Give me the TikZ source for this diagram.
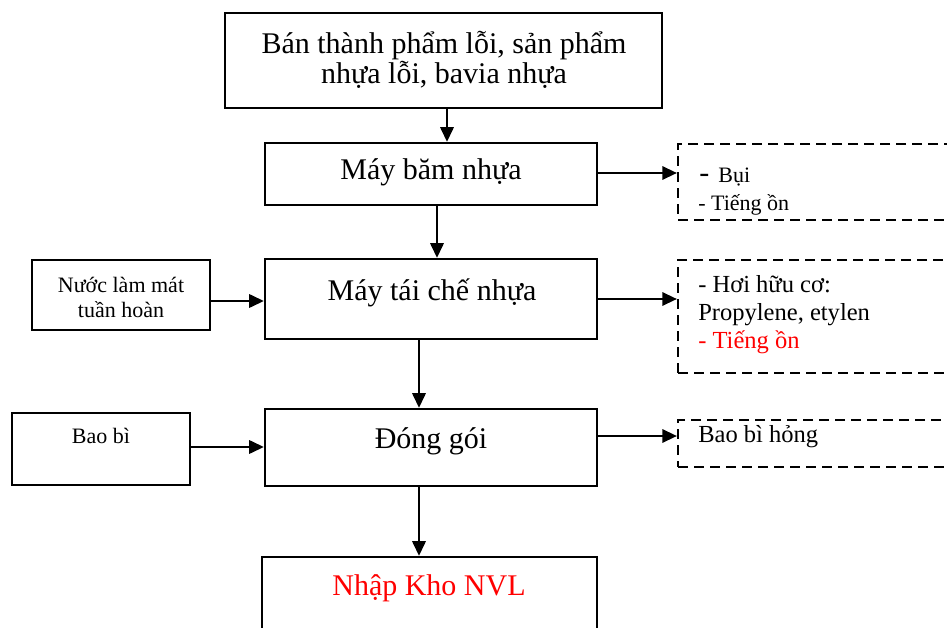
\documentclass[tikz,border=0pt]{standalone}
\usepackage{fontspec}
\setmainfont{Liberation Serif}
\usetikzlibrary{arrows.meta,fit}
\begin{document}
\begin{tikzpicture}[x=0.75pt,y=-0.75pt,
  box/.style={draw, line width=1.7pt, inner sep=0pt},
  dbox/.style={draw, line width=1.6pt, dash pattern=on 7.5pt off 4.5pt, inner sep=0pt},
  flow/.style={line width=1.7pt, -{Triangle[length=11pt,width=10pt]}},
  main/.style={inner sep=0pt, font=\fontsize{22.5}{22.5}\selectfont},
  side/.style={inner sep=0pt, font=\fontsize{18.4}{18.4}\selectfont},
  small/.style={inner sep=0pt, font=\fontsize{16.5}{16.5}\selectfont},
  warn/.style={text=red}
]
\useasboundingbox (0,0) rectangle (947,628);
\clip (0,0) rectangle (947,628);

% process chain
\node[box, fit={(225,13) (662,108)}] (src) {};
\node[main, anchor=base] (srcA) at (444,53) {Bán thành phẩm lỗi, sản phẩm};
\node[main, anchor=base] (srcB) at (444,83) {nhựa lỗi, bavia nhựa};

\node[box, fit={(265,143) (597,205)}] (bam) {};
\node[main, anchor=base] (bamT) at (431,179) {Máy băm nhựa};

\node[box, fit={(265,259) (597,339)}] (tai) {};
\node[main, anchor=base] (taiT) at (432,300) {Máy tái chế nhựa};

\node[box, fit={(265,409) (597,486)}] (dong) {};
\node[main, anchor=base] (dongT) at (431,448) {Đóng gói};

\node[box, fit={(262,557) (597,660)}] (kho) {};
\node[main, warn, anchor=base] (khoT) at (429,595) {Nhập Kho NVL};

% inputs
\node[box, fit={(32,260) (210,330)}] (nuoc) {};
\node[small, anchor=base] (nuocA) at (121,292) {Nước làm mát};
\node[small, anchor=base] (nuocB) at (121,317) {tuần hoàn};

\node[box, fit={(12,413) (190,485)}] (bao) {};
\node[small, anchor=base] (baoT) at (101,443) {Bao bì};

% outputs (dashed)
\node[dbox, fit={(678,144) (970,220)}] (bui) {};
\node[inner sep=0pt, anchor=base west] (buiA) at (699,182)
  {{\fontsize{22.5}{22.5}\selectfont -}\fontsize{16.5}{16.5}\selectfont\ \,Bụi};
\node[small, anchor=base west] (buiB) at (698,210) {- Tiếng ồn};

\node[dbox, fit={(678,260) (970,373)}] (hoi) {};
\node[side, anchor=base west] (hoiA) at (698,292) {- Hơi hữu cơ:};
\node[side, anchor=base west] (hoiB) at (698,320) {Propylene, etylen};
\node[side, warn, anchor=base west] (hoiC) at (698,348) {- Tiếng ồn};

\node[dbox, fit={(678,420) (970,467)}] (hong) {};
\node[side, anchor=base west] (hongT) at (698,442) {Bao bì hỏng};

% connectors
\draw[flow] (src.south -| 447,0) -- (bam.north -| 447,0);
\draw[flow] (bam.south -| 437,0) -- (tai.north -| 437,0);
\draw[flow] (tai.south -| 419,0) -- (dong.north -| 419,0);
\draw[flow] (dong.south -| 419,0) -- (kho.north -| 419,0);

\draw[flow] (nuoc.east |- 0,301) -- (tai.west |- 0,301);
\draw[flow] (bao.east |- 0,447) -- (dong.west |- 0,447);

\draw[flow] (bam.east |- 0,173) -- (bui.west |- 0,173);
\draw[flow] (tai.east |- 0,299) -- (hoi.west |- 0,299);
\draw[flow] (dong.east |- 0,436) -- (hong.west |- 0,436);
\end{tikzpicture}
\end{document}
